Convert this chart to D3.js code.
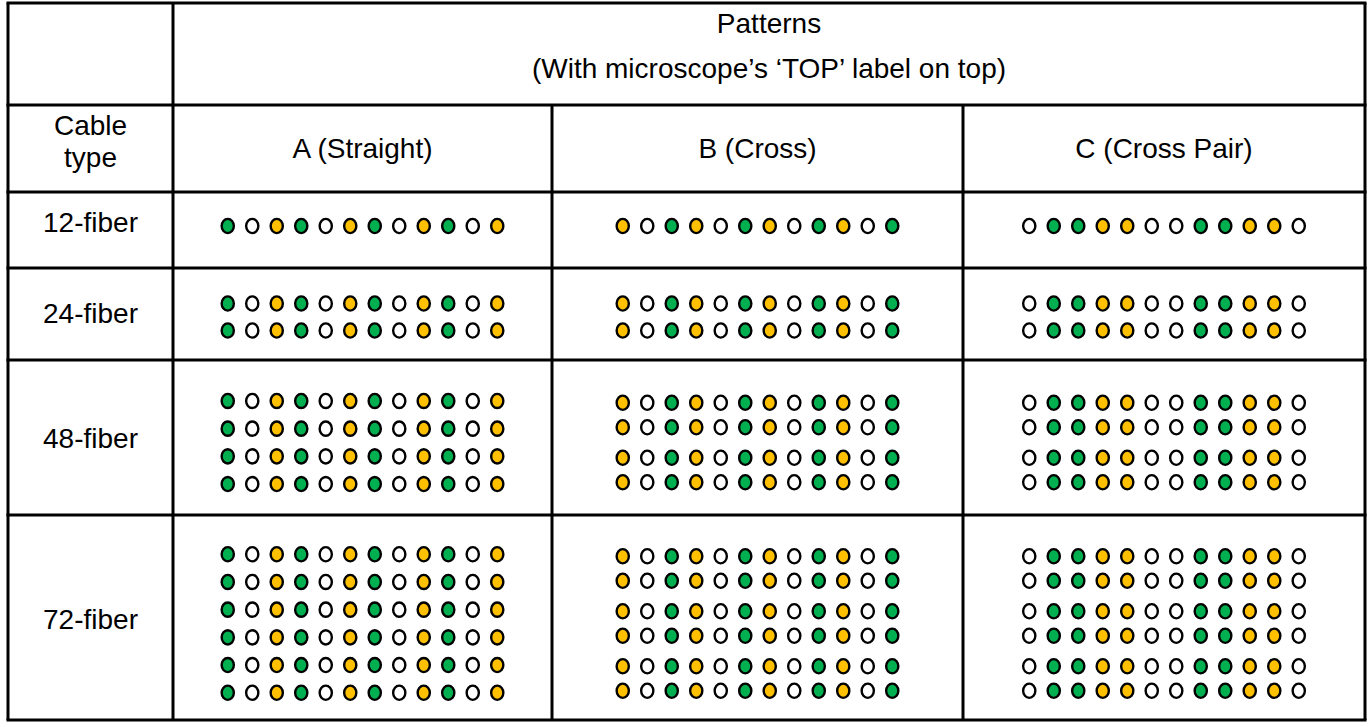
<!DOCTYPE html>
<html>
<head>
<meta charset="utf-8">
<script src="https://cdn.jsdelivr.net/npm/d3@7"></script>
<style>
  html, body { margin: 0; padding: 0; background: #fff; }
  svg { display: block; }
  text { font-family: "Liberation Sans", Arial, sans-serif; fill: #000; }
</style>
</head>
<body>
<div id="chart"></div>
<script>
// table content
const headerTitle = ["Patterns", "(With microscope\u2019s \u2018TOP\u2019 label on top)"];
const cornerLabel = ["Cable", "type"];
const patternNames = ["A (Straight)", "B (Cross)", "C (Cross Pair)"];
const cableTypes = ["12-fiber", "24-fiber", "48-fiber", "72-fiber"];
const rowsPerCable = [1, 2, 4, 6];

// fibre colour sequence per pattern (g = green, y = yellow, w = white), left to right
const seqA = ["g", "w", "y", "g", "w", "y", "g", "w", "y", "g", "w", "y"];
const seqB = ["y", "w", "g", "y", "w", "g", "y", "w", "g", "y", "w", "g"];
const seqC = ["w", "g", "g", "y", "y", "w", "w", "g", "g", "y", "y", "w"];
const sequences = [seqA, seqB, seqC];
// rows drawn as close pairs for B and C, evenly for A
const pairedRows = [false, true, true];

const fiberColor = { g: "#00B050", y: "#FFC000", w: "#ffffff" };

const W = 1372, H = 727;
const colEdges = [8, 173, 552, 963, 1365];
const rowEdges = [3, 105, 192, 268, 360, 515, 720];
const blockShift = [-4, 3, 5, 6];

const svg = d3.select("#chart").append("svg")
  .attr("width", W)
  .attr("height", H);

// dots first, grid drawn over
const gDots = svg.append("g");
const gGrid = svg.append("g");
const gText = svg.append("g");

const pitchX = 24.5;

cableTypes.forEach((cable, ci) => {
  const top = rowEdges[ci + 2], bottom = rowEdges[ci + 3];
  const cy = (top + bottom) / 2 + blockShift[ci];
  const n = rowsPerCable[ci];

  sequences.forEach((seq, pi) => {
    const cx = (colEdges[pi + 1] + colEdges[pi + 2]) / 2;
    const x = d3.scaleLinear()
      .domain([0, 11])
      .range([cx - 5.5 * pitchX, cx + 5.5 * pitchX]);

    // vertical offsets of the rows in this cell
    let offs;
    if (n <= 2) {
      offs = d3.range(n).map(r => r * 27);
    } else if (pairedRows[pi]) {
      offs = d3.range(n).map(r => Math.floor(r / 2) * 55 + (r % 2) * 24.5);
    } else {
      offs = d3.range(n).map(r => r * 27.7);
    }
    const mid = (d3.min(offs) + d3.max(offs)) / 2;
    const y = d3.scaleLinear().domain([mid, mid + 1]).range([cy, cy + 1]);

    const cells = [];
    offs.forEach((o, r) => {
      seq.forEach((c, i) => cells.push({ r, i, c, o }));
    });

    gDots.append("g")
      .selectAll("ellipse")
      .data(cells)
      .join("ellipse")
      .attr("cx", d => x(d.i))
      .attr("cy", d => y(d.o))
      .attr("rx", 6.1)
      .attr("ry", 7.1)
      .attr("fill", d => fiberColor[d.c])
      .attr("stroke", "#000")
      .attr("stroke-width", 2.4);
  });

  gText.append("text")
    .attr("x", (colEdges[0] + colEdges[1]) / 2)
    .attr("y", cy - 4)
    .attr("text-anchor", "middle")
    .attr("dominant-baseline", "central")
    .attr("font-size", 28)
    .text(cable);
});

// header texts
const hMid = (colEdges[1] + colEdges[4]) / 2;
gText.selectAll("text.title")
  .data(headerTitle)
  .join("text")
  .attr("class", "title")
  .attr("x", hMid)
  .attr("y", (d, i) => 33 + i * 45)
  .attr("text-anchor", "middle")
  .attr("font-size", 28)
  .text(d => d);

gText.selectAll("text.corner")
  .data(cornerLabel)
  .join("text")
  .attr("class", "corner")
  .attr("x", (colEdges[0] + colEdges[1]) / 2)
  .attr("y", (d, i) => 135 + i * 32)
  .attr("text-anchor", "middle")
  .attr("font-size", 28)
  .text(d => d);

gText.selectAll("text.pattern")
  .data(patternNames)
  .join("text")
  .attr("class", "pattern")
  .attr("x", (d, i) => (colEdges[i + 1] + colEdges[i + 2]) / 2)
  .attr("y", (rowEdges[1] + rowEdges[2]) / 2)
  .attr("text-anchor", "middle")
  .attr("dominant-baseline", "central")
  .attr("font-size", 28)
  .text(d => d);

// grid lines
const lineW = 3;
const x0 = colEdges[0], x1 = colEdges[4];
const y0 = rowEdges[0], y1 = rowEdges[rowEdges.length - 1];

gGrid.selectAll("line.h")
  .data(rowEdges)
  .join("line")
  .attr("class", "h")
  .attr("x1", x0 - lineW / 2)
  .attr("x2", x1 + lineW / 2)
  .attr("y1", d => d)
  .attr("y2", d => d)
  .attr("stroke", "#000")
  .attr("stroke-width", lineW);

const vLines = [
  { x: colEdges[0], from: y0 },
  { x: colEdges[1], from: y0 },
  { x: colEdges[2], from: rowEdges[1] },
  { x: colEdges[3], from: rowEdges[1] },
  { x: colEdges[4], from: y0 }
];
gGrid.selectAll("line.v")
  .data(vLines)
  .join("line")
  .attr("class", "v")
  .attr("x1", d => d.x)
  .attr("x2", d => d.x)
  .attr("y1", d => d.from)
  .attr("y2", y1)
  .attr("stroke", "#000")
  .attr("stroke-width", lineW);
</script>
</body>
</html>
